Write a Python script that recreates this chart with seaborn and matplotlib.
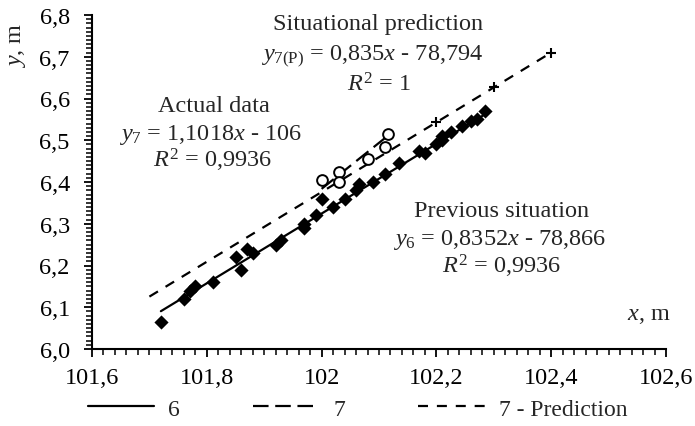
import numpy as np
import pandas as pd
import matplotlib
matplotlib.use("Agg")
import matplotlib.pyplot as plt
import seaborn as sns
from matplotlib.ticker import MultipleLocator, FuncFormatter
from matplotlib.lines import Line2D

# ---- data ----
prev_x = [101.72, 101.76, 101.77, 101.78, 101.81, 101.85, 101.86, 101.87, 101.88,
          101.92, 101.93, 101.97, 101.97, 101.99, 102.00, 102.02, 102.04, 102.06,
          102.065, 102.09, 102.11, 102.135, 102.17, 102.18, 102.20, 102.21, 102.21,
          102.225, 102.245, 102.26, 102.27, 102.285]
prev_y = [6.065, 6.12, 6.14, 6.15, 6.16, 6.22, 6.19, 6.24, 6.23,
          6.25, 6.26, 6.30, 6.29, 6.32, 6.36, 6.34, 6.36, 6.38,
          6.395, 6.40, 6.42, 6.445, 6.475, 6.47, 6.49, 6.51, 6.50,
          6.52, 6.535, 6.545, 6.55, 6.57]

actual_x = [102.00, 102.03, 102.03, 102.08, 102.11, 102.115]
actual_y = [6.405, 6.425, 6.40, 6.455, 6.485, 6.515]

pred_x = [102.2, 102.3, 102.4]
pred_y = [6.543, 6.627, 6.71]

# trendline coefficients (slope, intercept) and x-ranges
trend6 = (0.8352, -78.866)
trend7 = (1.1018, -106.0)
trendP = (0.835, -78.794)
range6 = [101.72, 102.29]
range7 = [102.00, 102.12]
rangeP = [101.70, 102.40]

legend_labels = ["6", "7", "7 - Prediction"]

# ---- style ----
sns.set_style("ticks")
plt.rcParams["font.family"] = ["Liberation Serif", "DejaVu Serif"]
plt.rcParams["mathtext.fontset"] = "custom"
plt.rcParams["mathtext.rm"] = "Liberation Serif"
plt.rcParams["mathtext.it"] = "Liberation Serif:italic"
plt.rcParams["mathtext.bf"] = "Liberation Serif:bold"

fig = plt.figure(figsize=(6.95, 4.27), dpi=100)
ax = fig.add_axes([92 / 695, 1 - 350 / 427, (666 - 92) / 695, (350 - 16) / 427])

def tline(coef, rng):
    xs = np.array(rng)
    return pd.DataFrame({"x": xs, "y": coef[0] * xs + coef[1]})

d6 = tline(trend6, range6)
d7 = tline(trend7, range7)
dP = tline(trendP, rangeP)

sns.lineplot(data=d6, x="x", y="y", ax=ax, color="black", lw=1.6, legend=False)
sns.lineplot(data=d7, x="x", y="y", ax=ax, color="black", lw=1.6, legend=False)
ax.lines[-1].set_dashes([7, 3])
sns.lineplot(data=dP, x="x", y="y", ax=ax, color="black", lw=1.6, legend=False)
ax.lines[-1].set_dashes([4.5, 4])

sns.scatterplot(x=prev_x, y=prev_y, ax=ax, marker="D", s=52, color="black",
                edgecolor="black", linewidth=0, zorder=3)
sns.scatterplot(x=actual_x, y=actual_y, ax=ax, marker="o", s=60, facecolor="white",
                edgecolor="black", linewidth=1.4, zorder=4)
sns.scatterplot(x=pred_x, y=pred_y, ax=ax, marker="+", s=60, color="black",
                linewidth=1.5, zorder=4)

ax.set_xlim(101.6, 102.6)
ax.set_ylim(6.0, 6.8)
ax.xaxis.set_major_locator(MultipleLocator(0.2))
ax.xaxis.set_minor_locator(MultipleLocator(0.02))
ax.yaxis.set_major_locator(MultipleLocator(0.1))
ax.yaxis.set_minor_locator(MultipleLocator(0.01))
ax.xaxis.set_major_formatter(FuncFormatter(lambda v, p: f"{round(v, 1):g}".replace(".", ",")))
ax.yaxis.set_major_formatter(FuncFormatter(lambda v, p: f"{v:.1f}".replace(".", ",")))
ax.tick_params(axis="both", which="major", direction="out", length=6, width=1.3,
               labelsize=17.5, color="black", labelcolor="black")
ax.tick_params(axis="x", which="major", pad=7)
ax.tick_params(axis="y", which="major", pad=10)
ax.tick_params(axis="both", which="minor", direction="out", length=4, width=1.1, color="black")
for s in ["top", "right"]:
    ax.spines[s].set_visible(False)
for s in ["left", "bottom"]:
    ax.spines[s].set_linewidth(1.5)
    ax.spines[s].set_color("black")
ax.set_xlabel("")
ax.set_ylabel("")

fs = 17.5
def ftext(px, py, s, **kw):
    fig.text(px / 695, 1 - py / 427, s, ha="center", va="baseline", fontsize=fs, **kw)

ftext(378, 30, "Situational prediction")
ftext(372, 61, r"$\mathit{y}_{7(\mathrm{P})}$ = 0,835$\mathit{x}$ - 78,794")
ftext(379, 91, r"$\mathit{R}^{2}$ = 1")
ftext(214, 112, "Actual data")
ftext(210, 140, r"$\mathit{y}_{7}$ = 1,1018$\mathit{x}$ - 106")
ftext(213, 168, r"$\mathit{R}^{2}$ = 0,9936")
ftext(502, 217, "Previous situation")
ftext(500, 245, r"$\mathit{y}_{6}$ = 0,8352$\mathit{x}$ - 78,866")
ftext(502, 273, r"$\mathit{R}^{2}$ = 0,9936")
ftext(649, 320, r"$\mathit{x}$, m")
fig.text(17 / 695, 1 - 45 / 427, r"$\mathit{y}$, m", ha="center", va="center",
         fontsize=fs, rotation=90)

handles = [
    Line2D([], [], color="black", lw=1.6),
    Line2D([], [], color="black", lw=1.6, dashes=[7, 3]),
    Line2D([], [], color="black", lw=1.6, dashes=[4.5, 4]),
]
fig.legend(handles, legend_labels, loc="center left", bbox_to_anchor=(88 / 695, 1 - 410 / 427),
           ncol=3, frameon=False, fontsize=17, handlelength=2.8, handletextpad=0.6,
           columnspacing=3.1, borderpad=0, borderaxespad=0)

fig.savefig("out.png", dpi=100)
